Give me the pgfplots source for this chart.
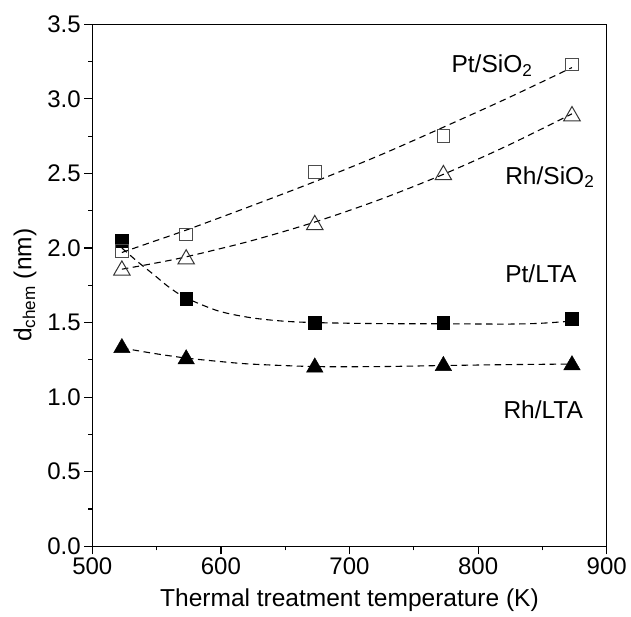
\documentclass[border=0pt]{standalone}
\usepackage{pgfplots}
\pgfplotsset{compat=1.18}
\usepackage{pgfplotstable}
\usepackage{fontspec}
\setmainfont{Liberation Sans}

% measured points
\pgfplotstableread{
x y
523 1.98
573 2.09
673 2.51
773 2.75
873 3.23
}\ptsio
\pgfplotstableread{
x y
523 1.85
573 1.925
673 2.155
773 2.49
873 2.885
}\rhsio
\pgfplotstableread{
x y
523 2.05
573 1.66
673 1.50
773 1.50
873 1.525
}\ptlta
\pgfplotstableread{
x y
523 1.33
573 1.255
673 1.20
773 1.21
873 1.215
}\rhlta

% dashed fit curves
\pgfplotstableread{
x y
523 1.970
548 2.045
573 2.120
623 2.280
673 2.445
723 2.620
773 2.810
823 3.005
873 3.210
}\ptsiofit
\pgfplotstableread{
x y
523 1.858
548 1.897
573 1.941
623 2.047
673 2.174
723 2.323
773 2.494
823 2.687
873 2.900
}\rhsiofit
\pgfplotstableread{
x y
523 2.000
535 1.910
548 1.820
560 1.735
573 1.665
598 1.578
623 1.533
648 1.510
673 1.500
723 1.493
773 1.492
823 1.490
848 1.495
873 1.510
}\ptltafit
\pgfplotstableread{
x y
523 1.330
548 1.293
573 1.262
598 1.240
623 1.222
673 1.205
723 1.205
773 1.212
823 1.218
873 1.222
}\rhltafit

\begin{document}
\begin{tikzpicture}
\useasboundingbox (-92.3pt,-70.7pt) rectangle (538.7pt,546.3pt);
\begin{axis}[
  at={(0,0)}, anchor=south west,
  scale only axis, width=514.4pt, height=522pt,
  xmin=500, xmax=900, ymin=0, ymax=3.5,
  xtick={500,600,700,800,900},
  ytick={0,0.5,1,1.5,2,2.5,3,3.5},
  minor tick num=1,
  tick align=outside, tick pos=left,
  major tick length=8pt, minor tick length=4pt,
  axis line style={line width=1.2pt},
  every tick/.style={line width=1.2pt, black},
  /pgf/number format/assume math mode=true,
  tick label style={font=\fontsize{24}{27}\selectfont},
  label style={font=\fontsize{24.5}{27}\selectfont},
  yticklabel style={/pgf/number format/fixed, /pgf/number format/fixed zerofill, /pgf/number format/precision=1},
  xticklabel style={/pgf/number format/1000 sep={}},
  xlabel={Thermal treatment temperature (K)},
  ylabel={d\textsubscript{chem} (nm)},
  xlabel style={at={(axis description cs:0.5,-0.103)}, anchor=center},
  ylabel style={at={(axis description cs:-0.131,0.5)}, anchor=center},
  clip=false,
]
% fit curves
\addplot[black, line width=1.1pt, dash pattern=on 6.5pt off 4.5pt, smooth, no marks] table {\ptsiofit};
\addplot[black, line width=1.1pt, dash pattern=on 6.5pt off 4.5pt, smooth, no marks] table {\rhsiofit};
\addplot[black, line width=1.1pt, dash pattern=on 6.5pt off 4.5pt, smooth, no marks] table {\ptltafit};
\addplot[black, line width=1.1pt, dash pattern=on 6.5pt off 4.5pt, smooth, no marks] table {\rhltafit};
% markers
\addplot[only marks, mark=square*, mark size=6.3pt, mark options={fill=black, draw=black}] table {\ptlta};
\addplot[only marks, mark=triangle*, mark size=9.5pt, mark options={fill=black, draw=black}] table {\rhlta};
\addplot[only marks, mark=square, mark size=6.3pt, mark options={draw=black!70, line width=1pt}] table {\ptsio};
\addplot[only marks, mark=triangle, mark size=9.5pt, mark options={draw=black!80, line width=1pt}] table {\rhsio};
% labels
\node[anchor=base west, font=\fontsize{24.5}{27}\selectfont] at (axis cs:776.6,3.177) {Pt/SiO\textsubscript{2}};
\node[anchor=base west, font=\fontsize{24.5}{27}\selectfont] at (axis cs:818.4,2.429) {Rh/SiO\textsubscript{2}};
\node[anchor=base west, font=\fontsize{24.5}{27}\selectfont] at (axis cs:818.4,1.769) {Pt/LTA};
\node[anchor=base west, font=\fontsize{24.5}{27}\selectfont] at (axis cs:817,0.854) {Rh/LTA};
\end{axis}
\end{tikzpicture}
\end{document}
